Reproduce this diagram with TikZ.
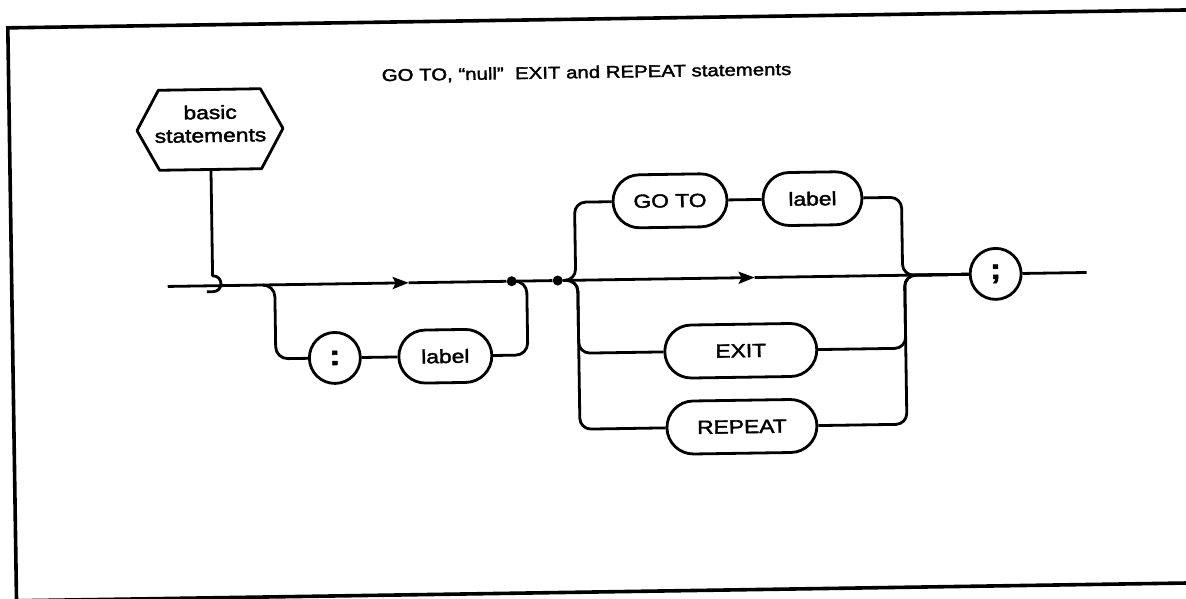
\documentclass[tikz,border=0pt]{standalone}
\usepackage{fontspec}
\setmainfont{Liberation Sans}[FakeStretch=1.2, FakeBold=2]
\usetikzlibrary{shapes.misc,arrows.meta}
\tikzset{
  line/.style={line width=2.8pt, line join=round},
  pill/.style={rounded rectangle, draw, line width=2.8pt, minimum height=53pt, inner sep=0pt, font=\fontsize{19}{22}\selectfont},
  term/.style={circle, draw, line width=2.8pt, minimum size=51pt, inner sep=0pt, font=\bfseries\fontsize{28}{28}\selectfont},
  dot/.style={circle, fill, minimum size=10pt, inner sep=0pt},
  flow/.style={-{Stealth[length=16pt,width=12pt,inset=3pt]}},
  frame/.style={line width=3.6pt},
}
\begin{document}
\begin{tikzpicture}[x=1pt,y=-1pt]
\useasboundingbox (0,0) rectangle (1186,599);
\clip (0,0) rectangle (1186,599);
\begin{scope}[rotate around={0.87:(593,300)}, transform shape]
  % frame
  \draw[frame] (1300,19) -- (12,19) -- (12,592) -- (1300,592);
  % title
  \node[font=\fontsize{17}{20}\selectfont, anchor=base] (title) at (590,78) {GO TO, “null”\ \ EXIT and REPEAT statements};
  % hexagon
  \draw[line] (139.6,123.7) -- (161.6,83.7) -- (263.6,83.7) -- (285.6,123.7) -- (263.6,163.7) -- (161.6,163.7) -- cycle;
  \node[font=\fontsize{19}{23}\selectfont, align=center] (hex) at (213,118) {basic\\statements};
  \coordinate (hexbot) at (213,163.7);
  \coordinate (hookA) at (213,270);
  \coordinate (hookB) at (213,286);
  \coordinate (hookC) at (207,286);
  \draw[line] (hexbot) -- (hookA) .. controls (224,270) and (224,286) .. (hookB) -- (hookC);
  % main line coordinates
  \coordinate (start) at (168,280);
  \coordinate (a1) at (409,280);
  \coordinate (lA) at (263,280);
  \coordinate (l1) at (275,354);
  \coordinate (l2) at (527,280);
  \node[dot] (d1) at (512,280) {};
  \node[dot] (d2) at (558,280) {};
  \coordinate (a2) at (755,280);
  \coordinate (fin) at (1087,280);
  % optional label loop
  \node[term] (colon) at (334,354) {:};
  \node[pill, minimum width=93pt] (lab1) at (444.5,354) {label};
  % choice nodes
  \node[pill, minimum width=114pt] (goto) at (671.5,202) {GO TO};
  \node[pill, minimum width=99pt] (lab2) at (814,202) {label};
  \node[pill, minimum width=152pt] (exit) at (740,353) {EXIT};
  \node[pill, minimum width=150pt] (repeat) at (740,429) {REPEAT};
  \node[term] (semi) at (996,280) {;};
  % main line
  \draw[line, flow] (start) -- (a1);
  \draw[line] (a1) -- (d1) -- (d2);
  \draw[line, flow] (d2) -- (a2);
  \draw[line] (a2) -- (semi);
  \draw[line] (semi) -- (fin);
  % loop
  \draw[line, rounded corners=12pt] (lA) -| (l1) -- (colon);
  \draw[line] (colon) -- (lab1);
  \draw[line, rounded corners=12pt] (lab1) -| (l2) -- (d1);
  % left brace
  \draw[line, rounded corners=11pt] (d2) -| (576,202) -- (goto);
  \draw[line] (goto) -- (lab2);
  \draw[line, rounded corners=11pt] (d2) -| (578,353) -- (exit);
  \draw[line, rounded corners=11pt] (d2) -| (578,429) -- (repeat);
  % right brace
  \draw[line, rounded corners=11pt] (lab2) -| (903,280) -- (semi);
  \draw[line, rounded corners=11pt] (exit) -| (905,280) -- (semi);
  \draw[line, rounded corners=11pt] (repeat) -| (905,280) -- (semi);
\end{scope}
\end{tikzpicture}
\end{document}
